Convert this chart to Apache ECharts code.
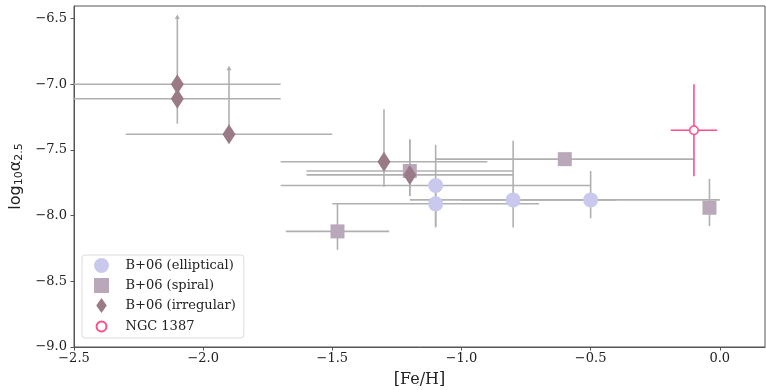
<!DOCTYPE html>
<html><head><meta charset="utf-8">
<script src="https://cdn.jsdelivr.net/npm/echarts@6/dist/echarts.min.js"></script>
<style>html,body{margin:0;padding:0;background:#fff}#c{width:766px;height:390px}</style>
</head><body><div id="c"></div>
<script>
// ---- data ----
// elliptical
const ellX    = [-1.1, -1.1, -0.8, -0.5];
const ellY    = [-7.77, -7.91, -7.88, -7.88];
const ellXerr = [0.6, 0.4, 0.4, 0.5];
const ellYlo  = [-8.08, -8.09, -8.09, -8.02];
const ellYhi  = [-7.46, -7.73, -7.43, -7.66];
// spiral
const spX    = [-1.2, -0.6, -1.48, -0.04];
const spY    = [-7.66, -7.57, -8.12, -7.94];
const spXerr = [0.4, 0.5, 0.2, 0];
const spYlo  = [-7.85, -7.57, -8.26, -8.08];
const spYhi  = [-7.42, -7.57, -7.905, -7.72];
// irregular
const irX    = [-2.1, -2.1, -1.9, -1.3, -1.2];
const irY    = [-7.0, -7.11, -7.38, -7.59, -7.69];
const irXerr = [0.4, 0.4, 0.4, 0.4, 0.4];
const irYlo  = [-7.0, -7.30, -7.38, -7.78, -7.85];
const irYhi  = [-6.48, -7.11, -6.87, -7.19, -7.42];
const irLoLim = [1, 0, 1, 0, 0];
// NGC 1387
const ngcX = [-0.1];
const ngcY = [-7.35];
const ngcXerr = [0.09];
const ngcYlo = [-7.70];
const ngcYhi = [-7.0];

const xTicks = [-2.5, -2.0, -1.5, -1.0, -0.5, 0.0];
const yTicks = [-9.0, -8.5, -8.0, -7.5, -7.0, -6.5];
const names = ['B+06 (elliptical)', 'B+06 (spiral)', 'B+06 (irregular)', 'NGC 1387'];

const cEll = '#c9c9ee', cSp = '#b8a8ba', cIr = '#9a7a86', cNgc = '#ff4f8b', cErr = '#b0b0b0';

function errData(X, Y, Xe, Ylo, Yhi, lim) {
  return X.map((x, i) => [x, Y[i], x - Xe[i], x + Xe[i], Ylo[i], Yhi[i], lim ? lim[i] : 0]);
}
function makeRender(color) {
  return function (params, api) {
    const y = api.value(1), x = api.value(0);
    const ch = [];
    const st = { stroke: color, lineWidth: 1.6 };
    if (api.value(2) !== api.value(3)) {
      const a = api.coord([api.value(2), y]), b = api.coord([api.value(3), y]);
      ch.push({ type: 'line', shape: { x1: a[0], y1: a[1], x2: b[0], y2: b[1] }, style: st });
    }
    if (api.value(4) !== api.value(5)) {
      const a = api.coord([x, api.value(4)]), b = api.coord([x, api.value(5)]);
      ch.push({ type: 'line', shape: { x1: a[0], y1: a[1], x2: b[0], y2: b[1] }, style: st });
      if (api.value(6)) {
        ch.push({ type: 'polygon', shape: { points: [[b[0] - 2.5, b[1] + 3], [b[0] + 2.5, b[1] + 3], [b[0], b[1] - 1.5]] }, style: { fill: color } });
      }
    }
    return { type: 'group', children: ch };
  };
}
function errSeries(data, color) {
  return { type: 'custom', renderItem: makeRender(color), data: data, clip: true, z: 1,
    encode: { x: [0, 2, 3], y: [1, 4, 5] }, silent: true };
}
const pts = (X, Y) => X.map((x, i) => [x, Y[i]]);

const chart = echarts.init(document.getElementById('c'), null, { renderer: 'canvas' });
const fmt = v => (v < 0 ? '\u2212' : '') + Math.abs(v).toFixed(1);
const smallCircle = 'path://M-7,0L-7,0M7,0L7,0M0,-7L0,-7M0,7L0,7' +
  'M0,-4.6C2.54,-4.6 4.6,-2.54 4.6,0C4.6,2.54 2.54,4.6 0,4.6C-2.54,4.6 -4.6,2.54 -4.6,0C-4.6,-2.54 -2.54,-4.6 0,-4.6Z';
chart.setOption({
  animation: false,
  backgroundColor: '#fff',
  grid: { left: 74, right: 1, top: 6, bottom: 43, show: true, borderColor: '#555', borderWidth: 1,
    containLabel: false, outerBoundsMode: 'none' },
  xAxis: {
    type: 'value', min: -2.5, max: 0.175,
    name: '[Fe/H]', nameLocation: 'middle', nameGap: 25,
    nameTextStyle: { fontFamily: 'DejaVu Serif', fontSize: 16, color: '#222' },
    axisLine: { show: true, onZero: false, lineStyle: { color: '#555', width: 1 } },
    axisTick: { show: true, customValues: xTicks, length: 3.5, lineStyle: { color: '#555' } },
    axisLabel: { customValues: xTicks, formatter: fmt, margin: 5, fontFamily: 'DejaVu Serif', fontSize: 13, color: '#222' },
    splitLine: { show: false }
  },
  yAxis: {
    type: 'value', min: -9.0, max: -6.404,
    name: '{n|log}{s|10}{n|\u03b1}{s|2.5}', nameLocation: 'middle', nameGap: 38, nameRotate: 90,
    nameTextStyle: { rich: {
      n: { fontFamily: 'DejaVu Sans', fontSize: 16, color: '#222' },
      s: { fontFamily: 'DejaVu Sans', fontSize: 11, color: '#222', verticalAlign: 'bottom', padding: [6, 0, 0, 0] } } },
    axisLine: { show: true, onZero: false, lineStyle: { color: '#555', width: 1 } },
    axisTick: { show: true, customValues: yTicks, length: 3.5, lineStyle: { color: '#555' } },
    axisLabel: { customValues: yTicks, formatter: fmt, margin: 7, fontFamily: 'DejaVu Serif', fontSize: 13, color: '#222' },
    splitLine: { show: false }
  },
  legend: {
    orient: 'vertical', left: 82, top: 255,
    padding: [3, 8, 3, 11], itemGap: 5, itemWidth: 38, itemHeight: 15,
    borderColor: '#dcdcdc', borderWidth: 1, borderRadius: 3, backgroundColor: 'rgba(255,255,255,0.8)',
    textStyle: { fontFamily: 'DejaVu Serif', fontSize: 13, color: '#222' },
    data: [
      { name: names[0], icon: 'circle' },
      { name: names[1], icon: 'path://M-7,-7H7V7H-7Z' },
      { name: names[2], icon: 'path://M0,-10L7,0L0,10L-7,0Z' },
      { name: names[3], icon: smallCircle }
    ]
  },
  series: [
    errSeries(errData(ellX, ellY, ellXerr, ellYlo, ellYhi), cErr),
    errSeries(errData(spX, spY, spXerr, spYlo, spYhi), cErr),
    errSeries(errData(irX, irY, irXerr, irYlo, irYhi, irLoLim), cErr),
    errSeries(errData(ngcX, ngcY, ngcXerr, ngcYlo, ngcYhi), cNgc),
    { name: names[0], type: 'scatter', data: pts(ellX, ellY), symbol: 'circle', symbolSize: 15, z: 3,
      itemStyle: { color: cEll, opacity: 1 } },
    { name: names[1], type: 'scatter', data: pts(spX, spY), symbol: 'rect', symbolSize: 14, z: 4,
      itemStyle: { color: cSp, opacity: 1 } },
    { name: names[2], type: 'scatter', data: pts(irX, irY), symbol: 'diamond', symbolSize: [13, 20], z: 5,
      itemStyle: { color: cIr, opacity: 1 } },
    { name: names[3], type: 'scatter', data: pts(ngcX, ngcY), symbol: 'circle', symbolSize: 8.5, z: 6,
      itemStyle: { color: '#fff', borderColor: cNgc, borderWidth: 1.5, opacity: 1 } }
  ]
});
</script></body></html>
